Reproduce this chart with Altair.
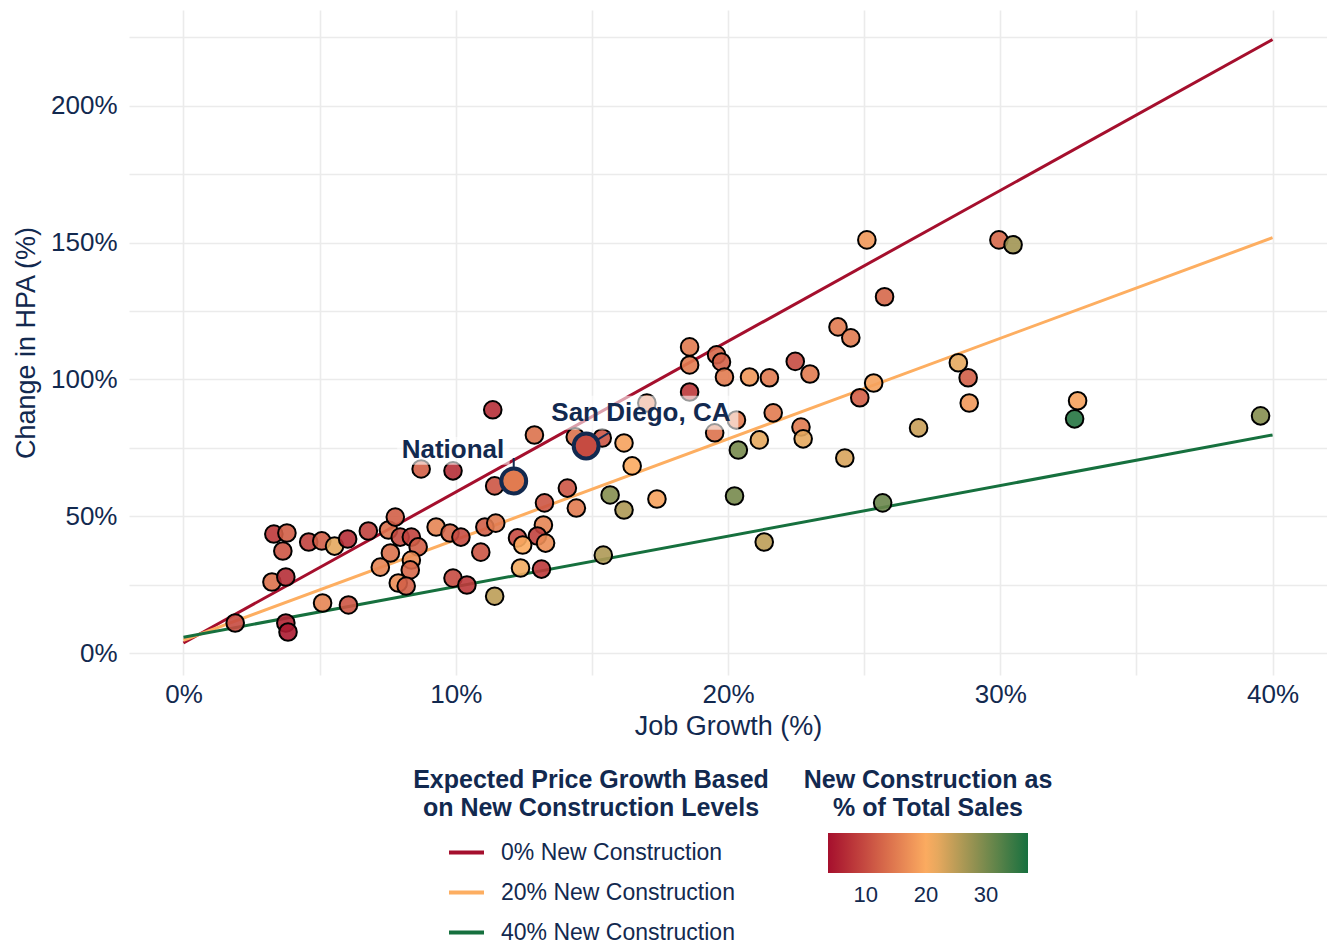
import altair as alt
import pandas as pd

NAVY = "#12294f"
FONT = "Liberation Sans"

# ---- market points: job growth (%), change in HPA (%), new construction share (%)
job_growth = [1.90, 3.76, 3.84, 3.25, 3.76, 3.32, 3.80, 3.65, 4.60, 5.08,
              5.55, 6.03, 5.11, 6.06, 6.79, 7.53, 7.78, 7.96, 8.37, 8.62,
              7.60, 7.23, 8.37, 8.33, 7.89, 8.18, 9.28, 9.79, 10.19, 9.90,
              10.41, 10.92, 8.73, 9.90, 11.36, 11.43, 12.89, 11.07, 11.47, 13.26,
              13.22, 13.00, 12.27, 12.46, 13.30, 12.38, 13.15, 11.43, 14.10, 14.43,
              14.39, 15.38, 16.18, 16.48, 17.02, 15.67, 16.18, 17.39, 15.42, 18.59,
              18.59, 18.59, 19.58, 19.76, 19.87, 20.79, 21.52, 21.66, 19.51,
              20.31, 21.15, 20.38, 20.24, 21.33, 25.10, 29.95, 30.47, 25.75, 24.04,
              24.51, 22.47, 23.01, 25.35, 24.84, 22.68, 22.76, 24.29, 27.00, 28.46,
              28.82, 28.86, 25.68, 32.84, 32.73, 39.56]
hpa_change = [11.0, 11.0, 7.7, 26.0, 27.8, 43.5, 43.9, 37.3, 40.6, 41.0,
              39.1, 41.7, 18.3, 17.6, 44.6, 45.0, 49.7, 42.4, 42.4, 38.8,
              36.6, 31.4, 34.0, 30.4, 25.6, 24.5, 46.1, 43.9, 42.4, 27.4,
              24.9, 36.9, 67.3, 66.6, 88.9, 61.1, 79.7, 46.1, 47.5, 54.9,
              46.8, 42.8, 42.1, 39.5, 40.2, 31.1, 30.7, 20.8, 60.3, 53.0,
              79.0, 78.6, 76.8, 68.4, 91.4, 57.8, 52.3, 56.3, 35.8, 111.9,
              105.3, 95.4, 109.0, 106.4, 100.9, 100.9, 100.6, 87.8, 80.5,
              85.2, 77.9, 74.2, 57.4, 40.6, 151.0, 151.0, 149.2, 130.2, 119.2,
              115.2, 106.6, 102.0, 98.7, 93.3, 82.6, 78.3, 71.3, 82.3, 106.1,
              100.6, 91.4, 54.9, 92.2, 85.6, 86.7]
new_construction = [10, 6, 5, 14, 7, 8, 12, 11, 9, 12,
                    22, 7, 16, 11, 9, 14, 12, 10, 9, 12,
                    14, 16, 17, 13, 17, 12, 16, 13, 10, 10,
                    8, 11, 12, 7, 7, 11, 14, 12, 15, 11,
                    16, 9, 10, 20, 17, 21, 8, 25, 11, 15,
                    14, 11, 19, 20, 15, 29, 26, 19, 26, 15,
                    15, 8, 13, 12, 15, 18, 15, 15, 14,
                    15, 22, 30, 30, 25, 18, 13, 27, 13, 15,
                    15, 10, 15, 19, 12, 15, 22, 23, 24, 22,
                    12, 18, 31, 19, 36, 29]

# ---- highlighted markets
hl_names = ["National", "San Diego, CA"]
hl_job = [12.13, 14.79]
hl_hpa = [62.9, 75.7]
hl_nc = [15, 10]

# ---- label placement (data units) for the highlighted markets
lab_job = [9.90, 16.80]
lab_hpa = [74.2, 87.8]
box_job1 = [7.85, 13.30]
box_job2 = [11.98, 20.38]
box_hpa1 = [68.8, 81.6]
box_hpa2 = [79.0, 94.0]
seg_job1 = [12.13, 15.20]
seg_hpa1 = [71.3, 77.9]
seg_job2 = [12.13, 15.67]
seg_hpa2 = [67.6, 80.8]

# ---- expected price growth lines
series_names = ["0% New Construction", "20% New Construction", "40% New Construction"]
series_colors = ["#a50f2d", "#fdae61", "#16703e"]
series_job = [0, 40]
series_hpa_start = [3.7, 4.7, 5.8]
series_hpa_end = [224.2, 151.8, 79.7]

# colour scale for new construction share
nc_domain = [3.7, 20.3, 37.0]
nc_range = ["#a50f2d", "#fdae61", "#17703f"]
nc_ticks = [10, 20, 30]

x_ticks = list(range(0, 41, 5))
y_ticks = list(range(0, 226, 25))

# ---- tables
points_df = pd.DataFrame({"job": job_growth, "hpa": hpa_change, "nc": new_construction})
hl_df = pd.DataFrame({"name": hl_names, "job": hl_job, "hpa": hl_hpa, "nc": hl_nc})
lab_df = pd.DataFrame({"name": hl_names, "job": lab_job, "hpa": lab_hpa})
box_df = pd.DataFrame({"job": box_job1, "job2": box_job2, "hpa": box_hpa1, "hpa2": box_hpa2})
seg_df = pd.DataFrame({"job": seg_job1, "hpa": seg_hpa1, "job2": seg_job2, "hpa2": seg_hpa2})
lines_rows = []
for name, y0, y1 in zip(series_names, series_hpa_start, series_hpa_end):
    lines_rows.append({"series": name, "job": series_job[0], "hpa": y0})
    lines_rows.append({"series": name, "job": series_job[1], "hpa": y1})
lines_df = pd.DataFrame(lines_rows)

x_enc = alt.X("job:Q",
              scale=alt.Scale(domain=[-2, 42], nice=False, zero=False),
              axis=alt.Axis(values=x_ticks,
                            labelExpr="datum.value % 10 === 0 ? datum.value + '%' : ''",
                            title="Job Growth (%)"))
y_enc = alt.Y("hpa:Q",
              scale=alt.Scale(domain=[-8, 235], nice=False, zero=False),
              axis=alt.Axis(values=y_ticks,
                            labelExpr="datum.value % 50 === 0 ? datum.value + '%' : ''",
                            title="Change in HPA (%)"))

lines = alt.Chart(lines_df).mark_line(strokeWidth=3).encode(
    x=x_enc, y=y_enc,
    stroke=alt.Stroke("series:N",
                      scale=alt.Scale(domain=series_names, range=series_colors),
                      legend=alt.Legend(
                          orient="none", legendX=284, legendY=758,
                          title=["Expected Price Growth Based", "on New Construction Levels"],
                          titleFontSize=25, titleFontWeight="bold", titleColor=NAVY,
                          titleFont=FONT, titleAnchor="middle", titleAlign="center",
                          titleLineHeight=28, titlePadding=12, titleLimit=800,
                          symbolType="stroke", symbolStrokeWidth=4, symbolSize=1225,
                          labelFontSize=23, labelColor=NAVY, labelFont=FONT,
                          labelOffset=15, labelLimit=0, rowPadding=8, padding=0)),
    detail="series:N",
)

fill_enc = alt.Fill("nc:Q",
                    scale=alt.Scale(domain=nc_domain, range=nc_range, interpolate="rgb"),
                    legend=alt.Legend(
                        orient="none", legendX=675, legendY=758, direction="horizontal",
                        title=["New Construction as", "% of Total Sales"],
                        titleFontSize=25, titleFontWeight="bold", titleColor=NAVY,
                        titleFont=FONT, titleAnchor="middle", titleAlign="center",
                        titleLineHeight=28, titlePadding=12, titleLimit=800,
                        gradientLength=200, gradientThickness=40, gradientStrokeWidth=0,
                        values=nc_ticks, labelFontSize=22, labelColor=NAVY, labelFont=FONT,
                        labelOffset=12, padding=0, gradientOpacity=1))

points = alt.Chart(points_df).mark_circle(
    size=310, stroke="black", strokeWidth=2, fillOpacity=0.9, strokeOpacity=1
).encode(x=x_enc, y=y_enc, fill=fill_enc)

highlight = alt.Chart(hl_df).mark_circle(
    size=620, stroke=NAVY, strokeWidth=4, fillOpacity=1, strokeOpacity=1
).encode(x=x_enc, y=y_enc, fill=fill_enc)

boxes = alt.Chart(box_df).mark_rect(color="white", opacity=0.6).encode(
    x=x_enc, x2="job2:Q", y=y_enc, y2="hpa2:Q")

labels = alt.Chart(lab_df).mark_text(
    font=FONT, fontSize=26, fontWeight="bold", color=NAVY, align="center", baseline="middle"
).encode(x=x_enc, y=y_enc, text="name:N")

segs = alt.Chart(seg_df).mark_rule(color=NAVY, strokeWidth=2).encode(
    x=x_enc, x2="job2:Q", y=y_enc, y2="hpa2:Q")

chart = alt.layer(lines, points, highlight, boxes, labels, segs).properties(
    width=1198, height=665,
    padding={"left": 121, "top": 2, "right": 0, "bottom": 272},
    autosize=alt.AutoSizeParams(type="none"),
).configure_view(stroke=None).configure_axis(
    grid=True, gridColor="#ebebeb", gridWidth=1.6,
    domain=False, ticks=False,
    labelFont=FONT, labelFontSize=26, labelColor=NAVY,
    titleFont=FONT, titleFontSize=27, titleFontWeight="normal", titleColor=NAVY,
).configure_axisX(labelPadding=6, titlePadding=6).configure_axisY(labelPadding=12, titlePadding=10)

chart.save("out.html", embed_options={"renderer": "svg", "actions": False})
